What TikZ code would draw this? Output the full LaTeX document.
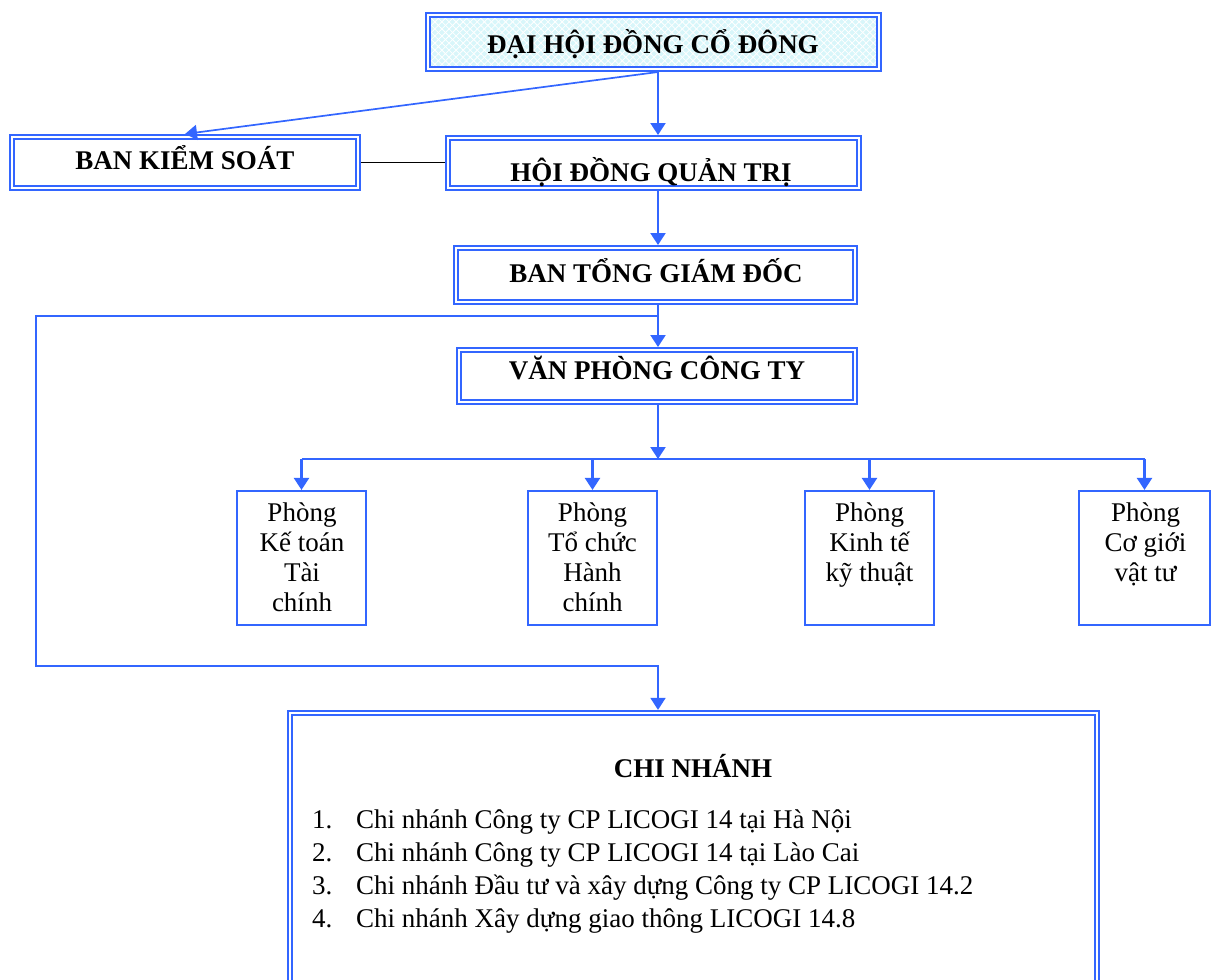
\documentclass[tikz,border=0pt]{standalone}
\usepackage{fontspec}
\setmainfont{Liberation Serif}
\usetikzlibrary{arrows.meta,patterns.meta,calc}
\definecolor{lineblue}{HTML}{3366FF}
\definecolor{paleCyan}{HTML}{D8F6FA}
\begin{document}
\begin{tikzpicture}[x=1pt,y=-1pt,
  dbox/.style={draw=lineblue, double=white, line width=1.9pt, double distance=2.2pt, outer sep=3pt, inner sep=0pt},
  cbox/.style={draw=lineblue, double=white, line width=1.9pt, double distance=2.4pt, outer sep=3.1pt, inner sep=0pt},
  sbox/.style={draw=lineblue, line width=1.6pt, outer sep=0.8pt, inner sep=0pt},
  conn/.style={draw=lineblue, line width=2.2pt},
  thin conn/.style={draw=lineblue, line width=1.7pt},
  arr/.style={-{Triangle[width=15pt,length=12pt]}},
  btitle/.style={font=\fontsize{27}{30}\selectfont\bfseries, inner sep=0pt, anchor=base},
  ptext/.style={font=\fontsize{27}{30}\selectfont, inner sep=0pt, anchor=base},
]
\useasboundingbox (0,0) rectangle (1213,980);
\clip (0,0) rectangle (1213,980);

% background of top box
\fill[paleCyan] (428,15) rectangle (879,69);
\fill[pattern={Lines[angle=45,distance=5pt,line width=0.8pt]}, pattern color=white] (428,15) rectangle (879,69);
\fill[pattern={Lines[angle=-45,distance=5pt,line width=0.8pt]}, pattern color=white] (428,15) rectangle (879,69);

% boxes
\node[dbox, minimum width=451pt, minimum height=54pt] (dhd) at (653.5,42) {};
\node[dbox, minimum width=346pt, minimum height=51pt] (bks) at (185,162.5) {};
\node[dbox, minimum width=411pt, minimum height=50pt] (hdqt) at (653.5,163) {};
\node[dbox, minimum width=399pt, minimum height=54pt] (btgd) at (655.5,275) {};
\node[dbox, minimum width=396pt, minimum height=52pt] (vpct) at (657,376) {};
\node[sbox, minimum width=129.5pt, minimum height=134.5pt] (p1) at (301.5,558) {};
\node[sbox, minimum width=129.5pt, minimum height=134.5pt] (p2) at (592.5,558) {};
\node[sbox, minimum width=129.5pt, minimum height=134.5pt] (p3) at (869.5,558) {};
\node[sbox, minimum width=131.5pt, minimum height=134.5pt] (p4) at (1144.5,558) {};
\node[cbox, minimum width=807pt, minimum height=294pt] (chi) at (693.5,860) {};

% helper coordinates
\coordinate (spine) at (658,0);
\coordinate (j1) at (658,316);
\coordinate (j2) at (36,666);
\coordinate (bus) at (658,459);

% connectors
\draw[conn,arr] (dhd.south -| spine) -- (hdqt.north -| spine);
\draw[thin conn,arr] (dhd.south -| spine) -- (bks.north);
\draw[black, line width=1.3pt] (bks.east) -- (hdqt.west |- bks.east);
\draw[conn,arr] (hdqt.south -| spine) -- (btgd.north -| spine);
\draw[conn,arr] (btgd.south -| spine) -- (vpct.north -| spine);
\draw[thin conn,arr] (j1) -| (j2) -| (chi.north -| spine);
\draw[conn,arr] (vpct.south -| spine) -- (bus);
\draw[thin conn] (p1.north |- bus) -- (p4.north |- bus);
\foreach \p in {p1,p2,p3,p4} \draw[conn,arr] (\p.north |- bus) -- (\p.north);

% texts
\node[btitle] (tdhd) at (653,53) {ĐẠI HỘI ĐỒNG CỔ ĐÔNG};
\node[btitle] (tbks) at (185,169) {BAN KIỂM SOÁT};
\node[btitle] (thdqt) at (651,181) {HỘI ĐỒNG QUẢN TRỊ};
\node[btitle] (tbtgd) at (656,282) {BAN TỔNG GIÁM ĐỐC};
\node[btitle] (tvpct) at (657,379) {VĂN PHÒNG CÔNG TY};

\node[ptext] (tp1) at (302,521) {\fontsize{27}{30}\selectfont\begin{tabular}[t]{@{}c@{}}Phòng\\Kế toán\\Tài\\chính\end{tabular}};
\node[ptext] (tp2) at (592.5,521) {\fontsize{27}{30}\selectfont\begin{tabular}[t]{@{}c@{}}Phòng\\Tổ chức\\Hành\\chính\end{tabular}};
\node[ptext] (tp3) at (869.5,521) {\fontsize{27}{30}\selectfont\begin{tabular}[t]{@{}c@{}}Phòng\\Kinh tế\\kỹ thuật\end{tabular}};
\node[ptext] (tp4) at (1145.5,521) {\fontsize{27}{30}\selectfont\begin{tabular}[t]{@{}c@{}}Phòng\\Cơ giới\\vật tư\end{tabular}};

\node[btitle] (tchi) at (693,777) {CHI NHÁNH};
\node[ptext, anchor=base west] (tlist) at (312,828) {\fontsize{27}{33}\selectfont\begin{tabular}[t]{@{}p{44pt}@{}l@{}}
1. & Chi nhánh Công ty CP LICOGI 14 tại Hà Nội\\
2. & Chi nhánh Công ty CP LICOGI 14 tại Lào Cai\\
3. & Chi nhánh Đầu tư và xây dựng Công ty CP LICOGI 14.2\\
4. & Chi nhánh Xây dựng giao thông LICOGI 14.8
\end{tabular}};
\end{tikzpicture}
\end{document}
